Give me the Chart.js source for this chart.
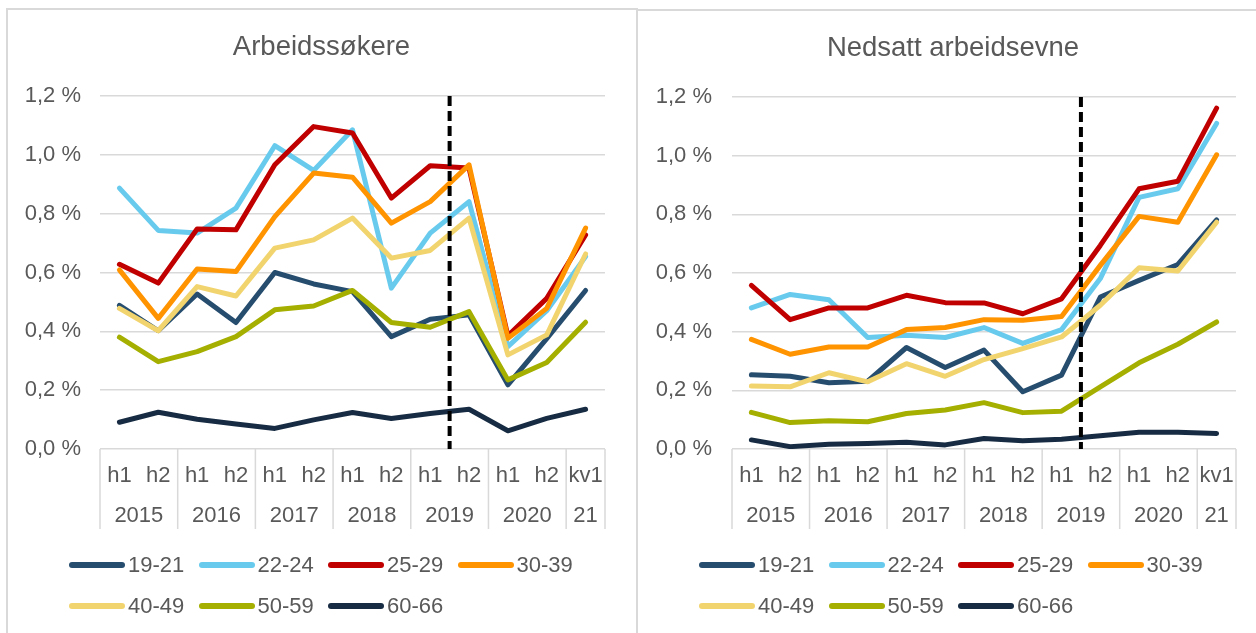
<!DOCTYPE html>
<html lang="no">
<head>
<meta charset="utf-8">
<title>Arbeidssøkere og nedsatt arbeidsevne</title>
<script src="https://cdn.jsdelivr.net/npm/chart.js@4/dist/chart.umd.min.js"></script>
<style>
  html, body { margin: 0; padding: 0; background: #fff; overflow: hidden; }
  body { width: 1256px; height: 633px; position: relative; font-family: "Liberation Sans", Arial, sans-serif; }
  .frame { position: absolute; border: 2px solid #d9d9d9; border-bottom: none; box-sizing: content-box; }
  canvas { position: absolute; }
  .legend { position: absolute; display: grid; grid-template-columns: repeat(4, 129.5px); grid-auto-rows: 41px; }
  .legend__item { display: flex; align-items: center; color: #595959; font-size: 22px; }
  .legend__line { width: 56px; height: 6px; border-radius: 3px; margin-right: 3px; }
</style>
</head>
<body>
<div class="frame" style="left:6px;top:8px;width:628px;height:640px;"></div>
<div class="frame" style="left:638px;top:9px;width:700px;height:640px;border-left:none;border-right:none;"></div>
<canvas id="chart-left" width="627" height="622" style="left:8px;top:11px;"></canvas>
<canvas id="chart-right" width="630" height="621" style="left:638px;top:12px;"></canvas>
<div class="legend" id="legend-left" style="left:69px;top:544px;"></div>
<div class="legend" id="legend-right" style="left:699px;top:544px;"></div>
<script>
// kategorier
const periods = ['h1', 'h2', 'h1', 'h2', 'h1', 'h2', 'h1', 'h2', 'h1', 'h2', 'h1', 'h2', 'kv1'];
const yearLabels = ['2015', '2016', '2017', '2018', '2019', '2020', '21'];
const yearSpans = [2, 2, 2, 2, 2, 2, 1];
const ageGroups = ['19-21', '22-24', '25-29', '30-39', '40-49', '50-59', '60-66'];
const colors = ['#264d6e', '#68cbee', '#c00000', '#ff9300', '#f2d46f', '#a4af00', '#172c43'];

// Arbeidssøkere, prosent
const jobs1921 = [0.488, 0.402, 0.527, 0.430, 0.600, 0.561, 0.535, 0.382, 0.441, 0.456, 0.218, 0.375, 0.539];
const jobs2224 = [0.887, 0.743, 0.734, 0.819, 1.031, 0.947, 1.085, 0.547, 0.734, 0.841, 0.348, 0.470, 0.654];
const jobs2529 = [0.628, 0.564, 0.748, 0.745, 0.966, 1.096, 1.074, 0.853, 0.963, 0.955, 0.385, 0.512, 0.728];
const jobs3039 = [0.609, 0.444, 0.612, 0.603, 0.790, 0.938, 0.924, 0.768, 0.841, 0.966, 0.376, 0.478, 0.751];
const jobs4049 = [0.478, 0.402, 0.552, 0.520, 0.683, 0.711, 0.785, 0.649, 0.675, 0.785, 0.320, 0.388, 0.663];
const jobs5059 = [0.380, 0.297, 0.331, 0.382, 0.473, 0.486, 0.539, 0.430, 0.414, 0.467, 0.235, 0.294, 0.431];
const jobs6066 = [0.091, 0.125, 0.101, 0.085, 0.070, 0.099, 0.124, 0.104, 0.121, 0.135, 0.062, 0.104, 0.135];

// Nedsatt arbeidsevne, prosent
const disab1921 = [0.253, 0.248, 0.226, 0.231, 0.346, 0.278, 0.337, 0.195, 0.252, 0.518, 0.575, 0.629, 0.781];
const disab2224 = [0.481, 0.527, 0.509, 0.380, 0.388, 0.380, 0.414, 0.360, 0.407, 0.581, 0.858, 0.887, 1.110];
const disab2529 = [0.558, 0.441, 0.481, 0.481, 0.524, 0.499, 0.498, 0.461, 0.512, 0.694, 0.887, 0.913, 1.162];
const disab3039 = [0.374, 0.323, 0.348, 0.348, 0.407, 0.414, 0.441, 0.439, 0.452, 0.626, 0.793, 0.773, 1.003];
const disab4049 = [0.215, 0.212, 0.260, 0.229, 0.291, 0.248, 0.305, 0.342, 0.382, 0.490, 0.618, 0.607, 0.773];
const disab5059 = [0.125, 0.090, 0.096, 0.093, 0.121, 0.133, 0.158, 0.124, 0.129, 0.212, 0.294, 0.357, 0.433];
const disab6066 = [0.031, 0.008, 0.016, 0.019, 0.023, 0.014, 0.036, 0.028, 0.033, 0.045, 0.057, 0.057, 0.053];

const yTicks = [0, 0.2, 0.4, 0.6, 0.8, 1.0, 1.2];
const markerAfterIndex = 8; // stiplet linje mellom h1 og h2 2019

const FONT = '"Liberation Sans", Arial, sans-serif';
const TEXT = '#595959';
const GRID = '#d9d9d9';

const formatPct = (v) => `${v.toFixed(1).replace('.', ',')} %`;

// title centred on the whole panel, not on the plot area
const panelTitlePlugin = {
  id: 'panelTitle',
  afterDraw(chart, args, opts) {
    const { ctx } = chart;
    ctx.save();
    ctx.fillStyle = TEXT;
    ctx.font = `27.5px ${FONT}`;
    ctx.textAlign = 'center';
    ctx.textBaseline = 'middle';
    ctx.fillText(opts.text, chart.width / 2, opts.y);
    ctx.restore();
  },
};

const categoryAxisPlugin = {
  id: 'categoryAxis',
  afterDatasetsDraw(chart) {
    const { ctx, chartArea, scales } = chart;
    const x = scales.x;
    const mid = (i) => (x.getPixelForValue(i) + x.getPixelForValue(i + 1)) / 2;
    ctx.save();

    // dashed marker
    const mx = mid(markerAfterIndex);
    ctx.strokeStyle = '#000';
    ctx.lineWidth = 4;
    ctx.setLineDash([10, 5]);
    ctx.beginPath();
    ctx.moveTo(mx, chartArea.top);
    ctx.lineTo(mx, chartArea.bottom);
    ctx.stroke();
    ctx.setLineDash([]);

    // year separators
    const bounds = [chartArea.left];
    let idx = 0;
    yearSpans.forEach((span) => {
      idx += span;
      bounds.push(idx >= periods.length ? chartArea.right : mid(idx - 1));
    });
    ctx.strokeStyle = GRID;
    ctx.lineWidth = 1.5;
    bounds.forEach((bx) => {
      ctx.beginPath();
      ctx.moveTo(bx, chartArea.bottom);
      ctx.lineTo(bx, chartArea.bottom + 80);
      ctx.stroke();
    });

    // labels
    ctx.fillStyle = TEXT;
    ctx.font = `22px ${FONT}`;
    ctx.textAlign = 'center';
    ctx.textBaseline = 'middle';
    periods.forEach((p, i) => {
      ctx.fillText(p, x.getPixelForValue(i), chartArea.bottom + 27);
    });
    let start = 0;
    yearLabels.forEach((label, i) => {
      const end = start + yearSpans[i] - 1;
      const cx = (x.getPixelForValue(start) + x.getPixelForValue(end)) / 2;
      ctx.fillText(label, cx, chartArea.bottom + 67);
      start = end + 1;
    });
    ctx.restore();
  },
};

const buildChart = (canvas, title, series, padRight, axisWidth, tickPad) => {
  const datasets = series.map((data, i) => ({
    label: ageGroups[i],
    data,
    borderColor: colors[i],
    backgroundColor: colors[i],
    borderWidth: 5,
    borderJoinStyle: 'round',
    borderCapStyle: 'round',
    pointRadius: 0,
    tension: 0,
    order: series.length - i,
  }));
  return new Chart(canvas, {
    type: 'line',
    data: { labels: periods, datasets },
    plugins: [categoryAxisPlugin, panelTitlePlugin],
    options: {
      responsive: false,
      animation: false,
      layout: { padding: { left: 0, right: padRight, top: 85, bottom: 0 } },
      plugins: {
        legend: { display: false },
        tooltip: { enabled: false },
        title: { display: false },
        panelTitle: { text: title, y: 36 },
      },
      scales: {
        x: {
          type: 'category',
          offset: true,
          ticks: { display: false },
          grid: { display: false },
          border: { display: false },
          afterFit: (scale) => { scale.height = 184; },
        },
        y: {
          min: 0,
          max: 1.2,
          afterBuildTicks: (scale) => { scale.ticks = yTicks.map((value) => ({ value })); },
          ticks: {
            color: TEXT,
            font: { family: FONT, size: 22 },
            padding: tickPad,
            callback: (v) => formatPct(v),
          },
          grid: { color: GRID, lineWidth: 1.5, drawTicks: false },
          border: { display: false },
          afterFit: (scale) => { scale.width = axisWidth; },
        },
      },
    },
  });
};

const renderLegend = (el) => {
  el.innerHTML = ageGroups
    .map((g, i) => `<div class="legend__item"><span class="legend__line" style="background:${colors[i]}"></span>${g}</div>`)
    .join('');
};

buildChart(
  document.getElementById('chart-left'),
  'Arbeidssøkere',
  [jobs1921, jobs2224, jobs2529, jobs3039, jobs4049, jobs5059, jobs6066],
  30, 92, 19,
);
buildChart(
  document.getElementById('chart-right'),
  'Nedsatt arbeidsevne',
  [disab1921, disab2224, disab2529, disab3039, disab4049, disab5059, disab6066],
  32, 94, 20,
);
renderLegend(document.getElementById('legend-left'));
renderLegend(document.getElementById('legend-right'));
</script>
</body>
</html>
